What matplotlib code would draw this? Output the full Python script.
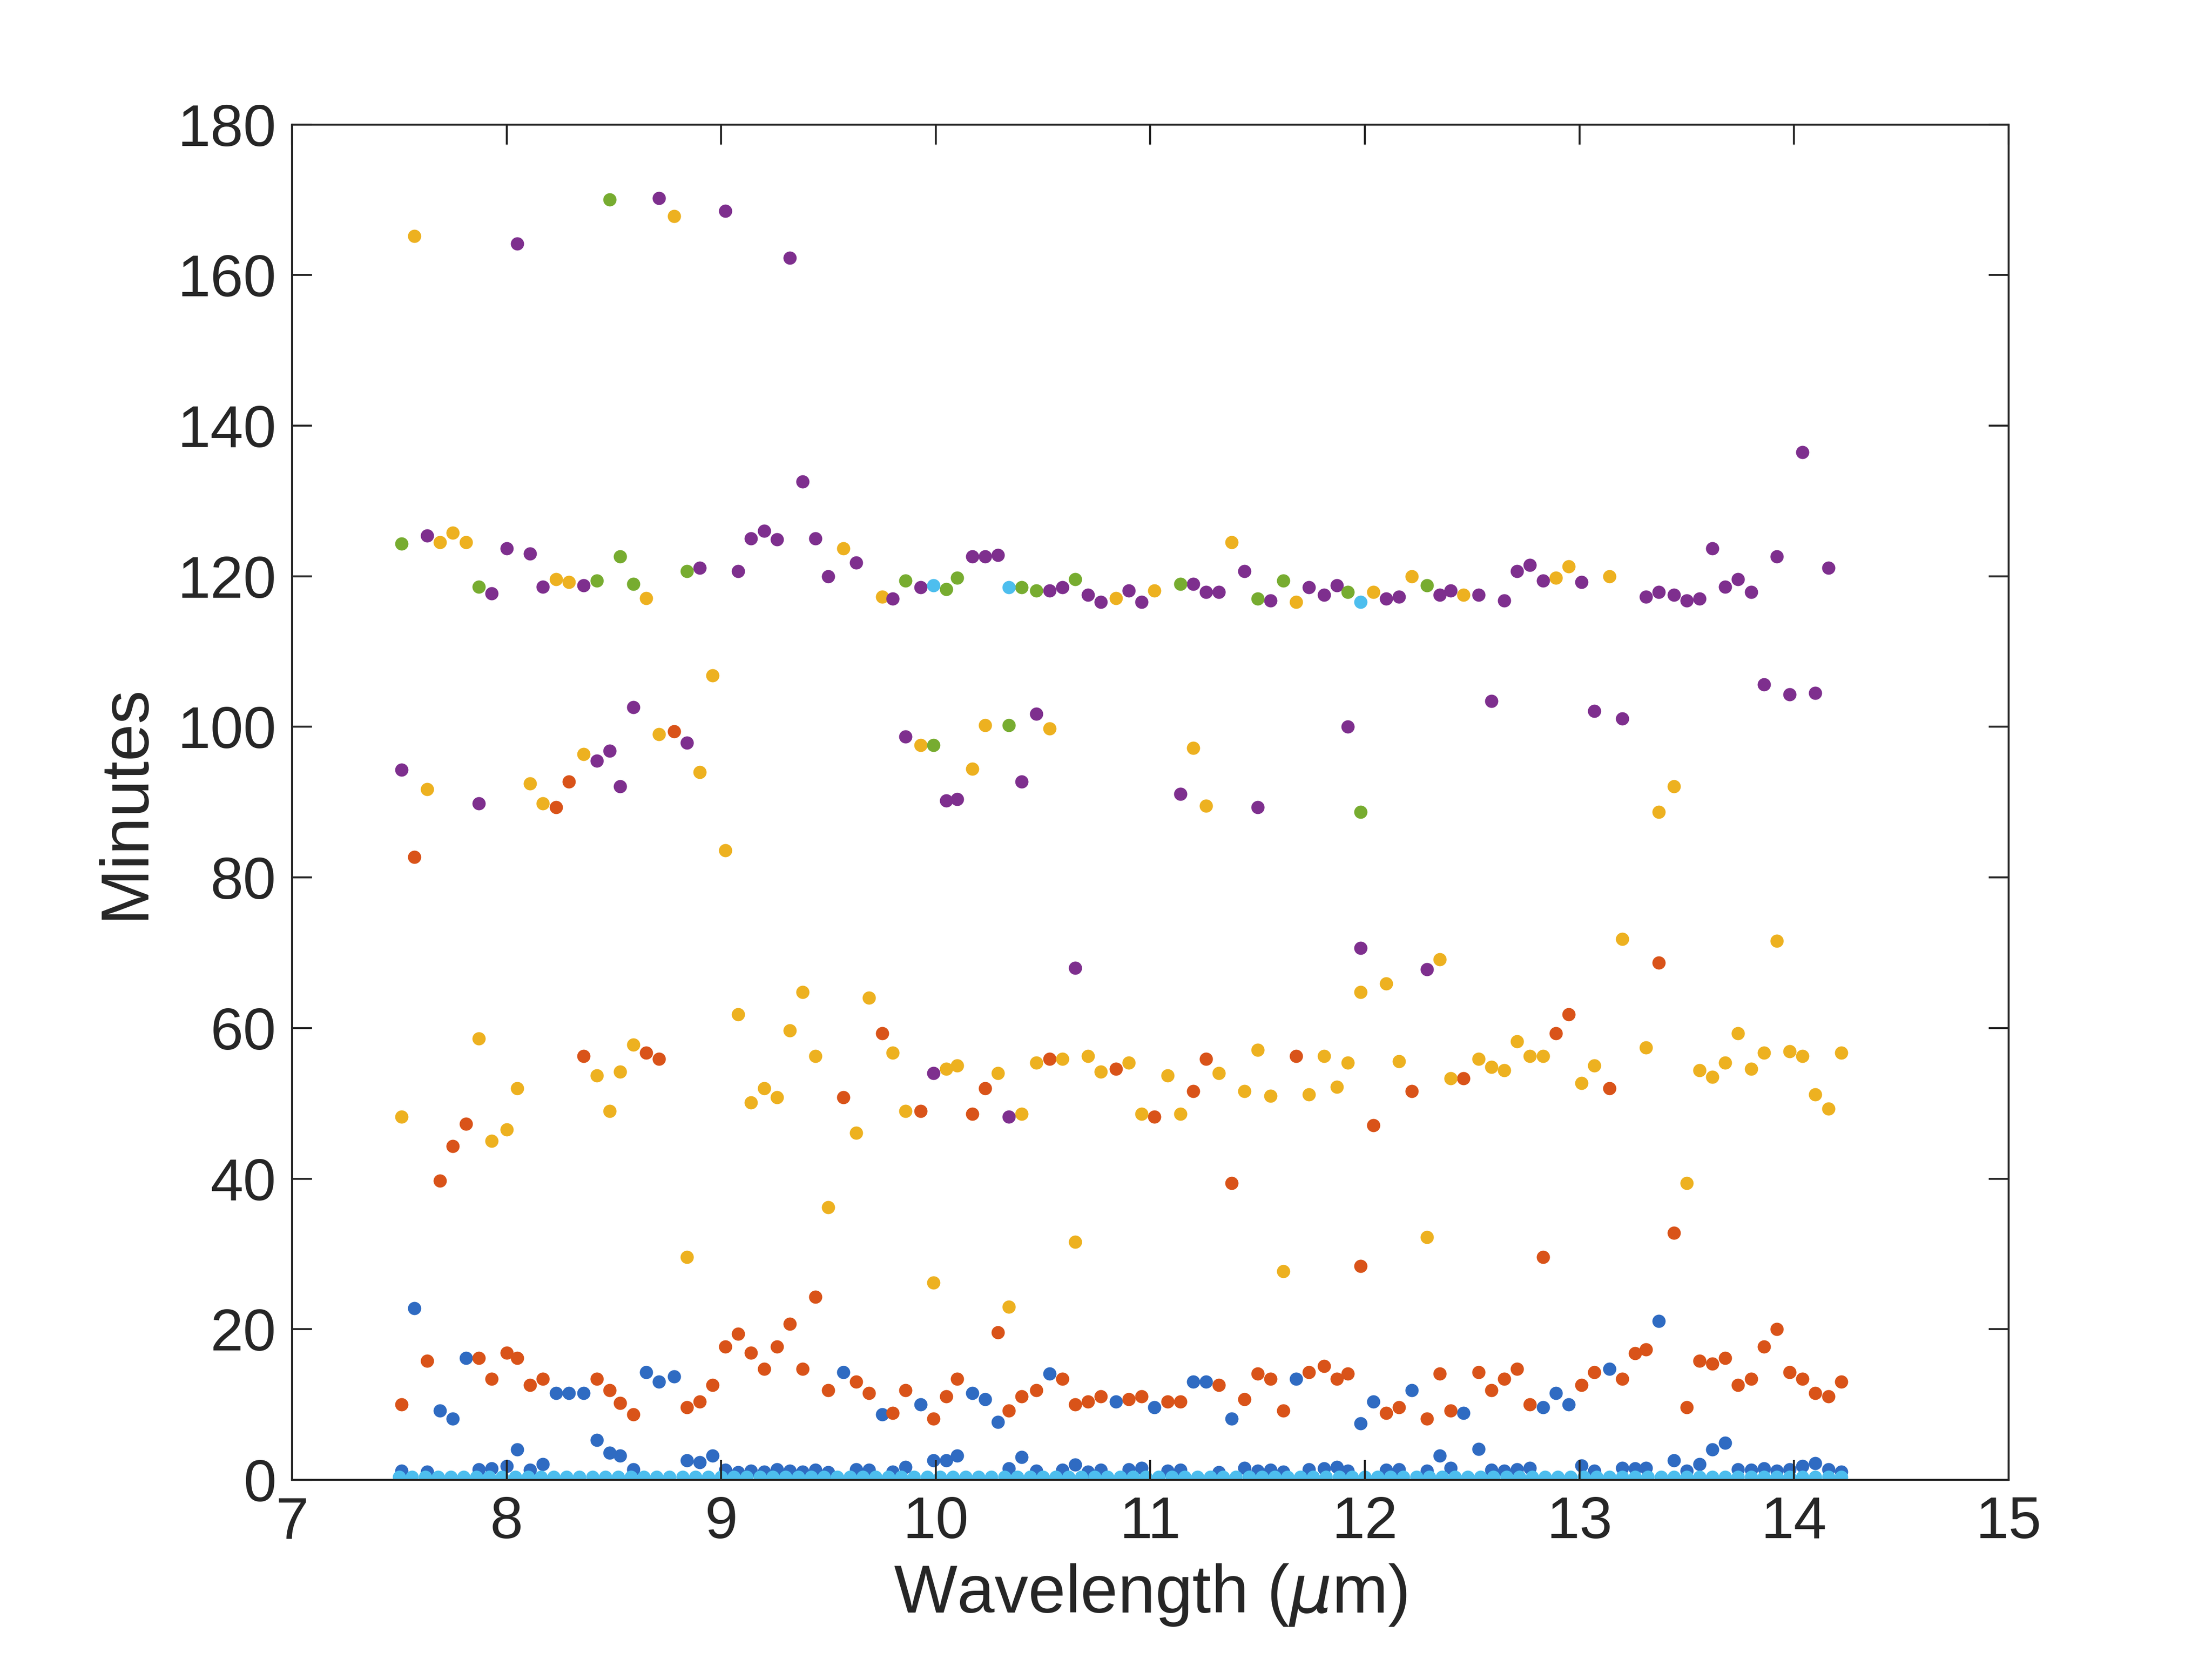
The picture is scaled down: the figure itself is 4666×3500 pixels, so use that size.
import numpy as np
import matplotlib.pyplot as plt

## wavelength grid (um) shared by the near-zero series
grid_x = np.linspace(7.5, 14.22, 113)

## purple series
purple_x = [7.51, 7.63, 7.87, 7.93, 8.0, 8.05, 8.11, 8.17, 8.36, 8.42, 8.48, 8.53, 8.59, 8.71, 8.84, 8.9,
            9.02, 9.08, 9.14, 9.2, 9.26, 9.32, 9.38, 9.44, 9.5, 9.63, 9.8, 9.86, 9.93, 9.99, 10.05, 10.1,
            10.17, 10.23, 10.29, 10.34, 10.4, 10.47, 10.53, 10.59, 10.65, 10.71, 10.77, 10.9, 10.96, 11.14,
            11.2, 11.26, 11.32, 11.44, 11.5, 11.56, 11.74, 11.81, 11.87, 11.92, 11.98, 12.1, 12.16, 12.29,
            12.35, 12.4, 12.53, 12.59, 12.65, 12.71, 12.77, 12.83, 13.01, 13.07, 13.2, 13.31, 13.37, 13.44,
            13.5, 13.56, 13.62, 13.68, 13.74, 13.8, 13.86, 13.92, 13.98, 14.04, 14.1, 14.16]
purple_y = [94.3, 125.4, 89.8, 117.7, 123.7, 164.2, 123, 118.6, 118.8, 95.5, 96.8, 92.1, 102.6, 170.2, 97.9, 121.1,
            168.5, 120.7, 125, 126, 124.9, 162.3, 132.6, 125, 120, 121.8, 117, 98.7, 118.5, 54, 90.2, 90.4,
            122.6, 122.6, 122.8, 48.2, 92.7, 101.7, 118.1, 118.5, 68, 117.5, 116.6, 118.1, 116.6, 91.1,
            119, 117.9, 117.9, 120.7, 89.3, 116.8, 118.5, 117.5, 118.8, 100, 70.6, 117, 117.3, 67.8,
            117.5, 118.1, 117.5, 103.4, 116.8, 120.7, 121.5, 119.4, 119.2, 102.1, 101.1, 117.3, 117.9, 117.5,
            116.8, 117, 123.7, 118.6, 119.6, 117.9, 105.6, 122.6, 104.3, 136.5, 104.5, 121.1]

## yellow series
yellow_x = [7.51, 7.57, 7.63, 7.69, 7.75, 7.81, 7.87, 7.93, 8.0, 8.05, 8.11, 8.17, 8.23, 8.29, 8.36, 8.42,
            8.48, 8.53, 8.59, 8.65, 8.71, 8.78, 8.84, 8.9, 8.96, 9.02, 9.08, 9.14, 9.2, 9.26, 9.32, 9.38,
            9.44, 9.5, 9.57, 9.63, 9.69, 9.75, 9.8, 9.86, 9.93, 9.99, 10.05, 10.1, 10.17, 10.23, 10.29,
            10.34, 10.4, 10.47, 10.53, 10.59, 10.65, 10.71, 10.77, 10.84, 10.9, 10.96, 11.02, 11.08, 11.14,
            11.2, 11.26, 11.32, 11.38, 11.44, 11.5, 11.56, 11.62, 11.68, 11.74, 11.81, 11.87, 11.92, 11.98,
            12.04, 12.1, 12.16, 12.22, 12.29, 12.35, 12.4, 12.46, 12.53, 12.59, 12.65, 12.71, 12.77, 12.83,
            12.89, 12.95, 13.01, 13.07, 13.14, 13.2, 13.31, 13.37, 13.44, 13.5, 13.56, 13.62, 13.68, 13.74,
            13.8, 13.86, 13.92, 13.98, 14.04, 14.1, 14.16, 14.22]
yellow_y = [48.2, 165.2, 91.7, 124.5, 125.8, 124.5, 58.6, 45, 46.5, 52, 92.5, 89.8, 119.6, 119.2, 96.4, 53.7,
            49, 54.2, 57.8, 117.1, 99, 167.8, 29.6, 94, 106.8, 83.6, 61.8, 50.1, 52, 50.8, 59.7, 64.8,
            56.3, 36.2, 123.7, 46.1, 64, 117.3, 56.7, 49, 97.6, 26.2, 54.6, 55, 94.4, 100.2, 54,
            23, 48.6, 55.4, 99.8, 55.9, 31.6, 56.3, 54.2, 117.1, 55.4, 48.6, 118.1, 53.7, 48.6,
            97.2, 89.5, 54, 124.5, 51.6, 57.1, 51, 27.7, 116.6, 51.2, 56.3, 52.2, 55.4, 64.8,
            117.9, 65.9, 55.6, 120, 32.2, 69.1, 53.3, 117.5, 55.9, 54.8, 54.4, 58.2, 56.3, 56.3,
            119.8, 121.3, 52.7, 55, 120, 71.8, 57.4, 88.7, 92.1, 39.4, 54.4, 53.5, 55.4, 59.3,
            54.6, 56.7, 71.6, 56.9, 56.3, 51.2, 49.3, 56.7]

## green series
green_x = [7.51, 7.87, 8.42, 8.48, 8.53, 8.59, 8.84, 9.86, 9.99, 10.05, 10.1, 10.34, 10.4, 10.47, 10.65,
           11.14, 11.5, 11.62, 11.92, 11.98, 12.29]
green_y = [124.3, 118.6, 119.4, 170, 122.6, 119, 120.7, 119.4, 97.6, 118.3, 119.8, 100.2, 118.5, 118.1, 119.6,
           119, 117, 119.4, 117.9, 88.7, 118.8]

## red series
red_x = [7.51, 7.57, 7.63, 7.69, 7.75, 7.81, 7.87, 7.93, 8.0, 8.05, 8.11, 8.17, 8.23, 8.29, 8.36, 8.42,
         8.48, 8.53, 8.59, 8.65, 8.71, 8.78, 8.84, 8.9, 8.96, 9.02, 9.08, 9.14, 9.2, 9.26, 9.32, 9.38,
         9.44, 9.5, 9.57, 9.63, 9.69, 9.75, 9.8, 9.86, 9.93, 9.99, 10.05, 10.1, 10.17, 10.23, 10.29,
         10.34, 10.4, 10.47, 10.53, 10.59, 10.65, 10.71, 10.77, 10.84, 10.9, 10.96, 11.02, 11.08, 11.14,
         11.2, 11.26, 11.32, 11.38, 11.44, 11.5, 11.56, 11.62, 11.68, 11.74, 11.81, 11.87, 11.92, 11.98,
         12.04, 12.1, 12.16, 12.22, 12.29, 12.35, 12.4, 12.46, 12.53, 12.59, 12.65, 12.71, 12.77, 12.83,
         12.89, 12.95, 13.01, 13.07, 13.14, 13.2, 13.26, 13.31, 13.37, 13.44, 13.5, 13.56, 13.62, 13.68,
         13.74, 13.8, 13.86, 13.92, 13.98, 14.04, 14.1, 14.16, 14.22]
red_y = [10, 82.7, 15.8, 39.7, 44.3, 47.3, 16.2, 13.4, 16.9, 16.2, 12.6, 13.4, 89.3, 92.7, 56.3, 13.4,
         11.9, 10.2, 8.7, 56.7, 55.9, 99.4, 9.6, 10.4, 12.6, 17.7, 19.4, 16.9, 14.7, 17.7, 20.7, 14.7,
         24.3, 11.9, 50.8, 13, 11.5, 59.3, 8.9, 11.9, 49, 8.1, 11.1, 13.4, 48.6, 52, 19.6,
         9.2, 11.1, 11.9, 55.9, 13.4, 10, 10.4, 11.1, 54.6, 10.7, 11.1, 48.2, 10.4, 10.4,
         51.6, 55.9, 12.6, 39.4, 10.7, 14.1, 13.4, 9.2, 56.3, 14.3, 15.1, 13.4, 14.1, 28.4,
         47.1, 8.9, 9.6, 51.6, 8.1, 14.1, 9.2, 53.3, 14.3, 11.9, 13.4, 14.7, 10, 29.6,
         59.3, 61.8, 12.6, 14.3, 52, 13.4, 16.8, 17.3, 68.7, 32.8, 9.6, 15.8, 15.4, 16.2,
         12.6, 13.4, 17.7, 20, 14.3, 13.4, 11.5, 11.1, 13]

## blue series (raised points)
blue_x = [7.57, 7.69, 7.75, 7.81, 8.05, 8.23, 8.29, 8.36, 8.42, 8.48, 8.53, 8.65, 8.71, 8.78, 8.84, 8.9,
          8.96, 9.57, 9.75, 9.93, 9.99, 10.05, 10.1, 10.17, 10.23, 10.29, 10.4, 10.53, 10.84, 11.02, 11.2,
          11.26, 11.38, 11.68, 11.98, 12.04, 12.22, 12.35, 12.46, 12.53, 12.83, 12.89, 12.95, 13.14,
          13.37, 13.44, 13.62, 13.68]
blue_y = [22.8, 9.2, 8.1, 16.2, 4, 11.5, 11.5, 11.5, 5.3, 3.6, 3.2, 14.3, 13, 13.7, 2.6, 2.3,
          3.2, 14.3, 8.7, 10, 2.6, 2.6, 3.2, 11.5, 10.7, 7.7, 3, 14.1, 10.4, 9.6, 13,
          13, 8.1, 13.4, 7.5, 10.4, 11.9, 3.2, 8.9, 4.1, 9.6, 11.5, 10, 14.7,
          21.1, 2.6, 4, 4.9]
## blue series (points near the floor)
blue_low_x = [7.51, 7.63, 7.87, 7.93, 8.0, 8.11, 8.17, 8.59, 9.02, 9.08, 9.14, 9.2, 9.26, 9.32, 9.38, 9.44,
              9.5, 9.63, 9.69, 9.8, 9.86, 10.34, 10.47, 10.59, 10.65, 10.71, 10.77, 10.9, 10.96, 11.08,
              11.14, 11.32, 11.44, 11.5, 11.56, 11.62, 11.74, 11.81, 11.87, 11.92, 12.1, 12.16, 12.29,
              12.4, 12.59, 12.65, 12.71, 12.77, 13.01, 13.07, 13.2, 13.26, 13.31, 13.5, 13.56, 13.74,
              13.8, 13.86, 13.92, 13.98, 14.04, 14.1, 14.16, 14.22]
blue_low_y = [1.2, 1.1, 1.4, 1.5, 1.8, 1.3, 2.1, 1.4, 1.3, 1.0, 1.2, 1.1, 1.4, 1.2, 1.1, 1.3,
              1.0, 1.4, 1.3, 1.1, 1.7, 1.5, 1.2, 1.3, 2.0, 1.1, 1.3, 1.4, 1.6, 1.2,
              1.3, 1.0, 1.6, 1.2, 1.3, 1.1, 1.4, 1.5, 1.7, 1.2, 1.3, 1.4, 1.2,
              1.6, 1.3, 1.2, 1.4, 1.6, 1.9, 1.2, 1.6, 1.5, 1.6, 1.2, 2.1, 1.4,
              1.3, 1.5, 1.2, 1.4, 1.8, 2.2, 1.4, 1.1]

## light blue series: floor row plus three raised points
lightblue_y = [0.4] * len(grid_x)
lightblue_hi_x = [9.99, 10.34, 11.98]
lightblue_hi_y = [118.8, 118.5, 116.6]

plt.rcParams['font.family'] = 'Liberation Sans'
fig = plt.figure(figsize=(4666 / 300, 3500 / 300), dpi=300)
ax = fig.add_axes([0.132, 0.108, 0.776, 0.817])

s = 45
ax.scatter(blue_x + blue_low_x, blue_y + blue_low_y, s=s, color='#2f6bc2', linewidths=0)
ax.scatter(red_x, red_y, s=s, color='#D95319', linewidths=0)
ax.scatter(yellow_x, yellow_y, s=s, color='#EDB120', linewidths=0)
ax.scatter(purple_x, purple_y, s=s, color='#7E2F8E', linewidths=0)
ax.scatter(green_x, green_y, s=s, color='#77AC30', linewidths=0)
ax.scatter(list(grid_x) + lightblue_hi_x, lightblue_y + lightblue_hi_y, s=s, color='#4DBEEE', linewidths=0)

ax.set_xlim(7, 15)
ax.set_ylim(0, 180)
ax.set_xticks(range(7, 16))
ax.set_yticks(range(0, 181, 20))
ax.tick_params(direction='in', length=10, width=1, top=True, right=True,
               labelsize=30, colors='#262626', pad=8)
for sp in ax.spines.values():
    sp.set_linewidth(1)
    sp.set_color('#262626')
ax.set_xlabel(r'Wavelength ($\mu$m)', fontsize=34, color='#262626', labelpad=6)
ax.set_ylabel('Minutes', fontsize=34, color='#262626', labelpad=10)

fig.savefig('out.png', dpi=300)
